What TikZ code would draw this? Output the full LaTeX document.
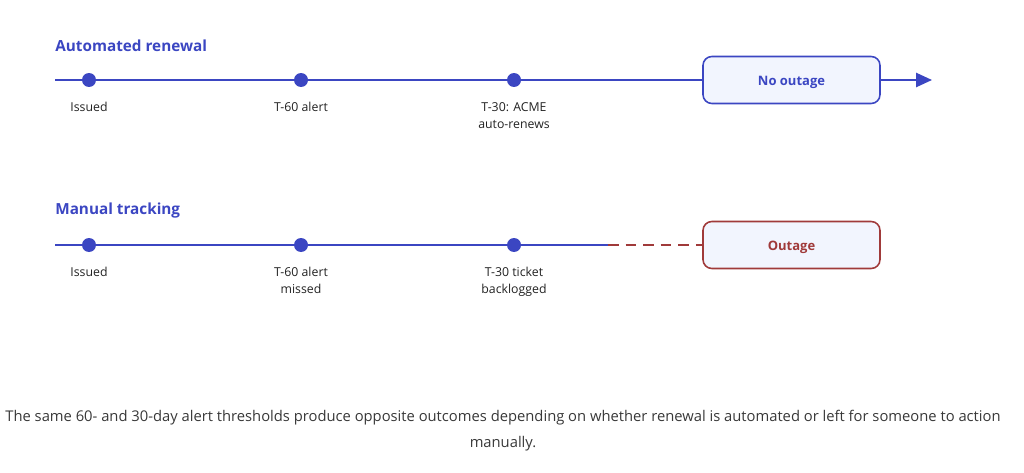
\documentclass[tikz,border=0pt]{standalone}
\usepackage{fontspec}
\setmainfont{Open Sans}
\usetikzlibrary{arrows.meta}
\definecolor{tlblue}{HTML}{3B46C2}
\definecolor{tlred}{HTML}{A03A3A}
\definecolor{boxfill}{HTML}{F2F5FE}
\definecolor{txt}{HTML}{222222}
\newcommand{\boxtext}[1]{\smash{\raisebox{-3.3pt}{#1}}}
\begin{document}
\begin{tikzpicture}[x=0.02cm,y=-0.02cm,
    title/.style={anchor=west,inner sep=0pt,text=tlblue,font=\fontsize{8.7}{10}\selectfont\bfseries},
    evt/.style={circle,fill=tlblue,inner sep=0pt,minimum size=0.28cm},
    lbl/.style={below=12.5pt,inner sep=0pt,align=center,text=txt,font=\fontsize{7}{9.6}\selectfont},
    outcome/.style={draw,rounded corners=5pt,fill=boxfill,line width=0.9pt,minimum width=3.54cm,minimum height=0.94cm,font=\fontsize{7.4}{9}\selectfont\bfseries}]
  \useasboundingbox (0,0) rectangle (1024,473);
  % automated
  \node[title] (auto) at (55,46) {Automated renewal};
  \coordinate (a0) at (55,80);
  \coordinate (aend) at (932,80);
  \node[outcome,draw=tlblue,text=tlblue] (ok) at (791.5,80) {\boxtext{No outage}};
  \draw[tlblue,line width=1.1pt] (a0) -- (ok);
  \draw[tlblue,line width=1.1pt,-{Triangle[length=9pt,width=8pt]}] (ok) -- (aend);
  \node[evt] (a1) at (89,80) {};
  \node[evt] (a2) at (301,80) {};
  \node[evt] (a3) at (514,80) {};
  \node[lbl] at (a1) {Issued};
  \node[lbl] at (a2) {T-60 alert};
  \node[lbl] at (a3) {T-30: ACME\\auto-renews};
  % manual
  \node[title] (man) at (55,211) {Manual tracking};
  \coordinate (m0) at (55,245);
  \coordinate (mbreak) at (608,245);
  \node[outcome,draw=tlred,text=tlred] (fail) at (791.5,245) {\boxtext{Outage}};
  \draw[tlblue,line width=1.1pt] (m0) -- (mbreak);
  \draw[tlred,line width=1.1pt,dash pattern=on 6pt off 4pt] (mbreak) -- (fail);
  \node[evt] (m1) at (89,245) {};
  \node[evt] (m2) at (301,245) {};
  \node[evt] (m3) at (514,245) {};
  \node[lbl] at (m1) {Issued};
  \node[lbl] at (m2) {T-60 alert\\missed};
  \node[lbl] at (m3) {T-30 ticket\\backlogged};
  % caption
  \node[text=txt!90,align=center,font=\fontsize{8.4}{14.8}\selectfont] (cap) at (503,431)
    {The same 60- and 30-day alert thresholds produce opposite outcomes depending on whether renewal is automated or left for someone to action\\manually.};
\end{tikzpicture}
\end{document}
